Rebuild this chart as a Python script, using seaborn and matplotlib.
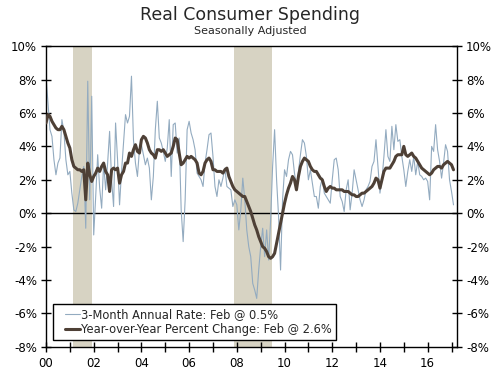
import numpy as np
import pandas as pd
import matplotlib
matplotlib.use('Agg')
import matplotlib.pyplot as plt
import seaborn as sns
from matplotlib.ticker import MultipleLocator, FuncFormatter
from matplotlib.legend_handler import HandlerLine2D

# monthly data, Jan 2000 - Feb 2017 (percent)
three_month = [
    8.2, 6.6, 5.0, 4.6, 3.2, 2.3, 3.0, 3.3, 5.6, 4.9, 3.2, 2.3,        # 2000
    2.5, 1.2, 0.2, 0.1, 0.6, 1.4, 2.2, 2.8, -0.9, 7.9, 0.8, 7.0,       # 2001
    -1.3, 1.0, 3.5, 1.5, 0.3, 3.0, 1.4, 3.0, 4.9, 2.0, 0.4, 5.4,       # 2002
    3.2, 0.5, 2.5, 4.2, 5.9, 5.4, 5.8, 8.2, 4.4, 3.0, 2.2, 3.8,        # 2003
    4.1, 3.5, 2.9, 3.3, 2.7, 0.8, 2.2, 5.0, 6.7, 4.5, 4.2, 3.7,        # 2004
    3.1, 3.9, 5.6, 2.2, 5.3, 5.4, 3.6, 4.5, 0.2, -1.7, 0.8, 5.0,       # 2005
    5.5, 4.8, 4.4, 3.8, 2.4, 2.2, 2.0, 1.6, 3.0, 3.8, 4.7, 4.8,        # 2006
    3.4, 1.6, 1.0, 2.0, 1.6, 2.1, 2.7, 1.6, 1.5, 1.4, 0.4, 0.8,        # 2007
    0.5, -1.0, 0.2, 2.1, 0.8, -1.0, -2.0, -2.6, -4.2, -4.6, -5.1, -3.4,  # 2008
    -2.0, -0.9, -2.6, -1.0, -2.8, -0.4, 2.8, 5.0, 2.0, -0.2, -3.4, 0.8,  # 2009
    2.6, 2.2, 3.2, 3.7, 3.5, 2.4, 1.6, 2.5, 3.5, 4.4, 4.2, 3.4,        # 2010
    2.0, 2.6, 1.8, 1.0, 1.0, 0.3, 1.6, 2.1, 1.2, 1.0, 0.8, 0.6,        # 2011
    2.0, 3.2, 3.3, 2.6, 1.0, 0.7, 0.1, 1.4, 2.0, 0.2, 1.2, 2.6,        # 2012
    2.0, 1.4, 0.8, 0.4, 0.8, 1.4, 1.6, 1.9, 2.8, 3.1, 4.4, 2.8,        # 2013
    1.2, 2.0, 3.4, 5.0, 3.4, 3.1, 5.2, 3.8, 5.3, 4.3, 4.4, 3.4,        # 2014
    2.6, 1.6, 2.5, 3.2, 2.5, 3.4, 2.3, 3.1, 2.3, 2.2, 2.0, 2.1,        # 2015
    1.9, 0.8, 4.0, 3.7, 5.3, 3.8, 3.1, 2.1, 3.0, 4.1, 3.7, 2.0,        # 2016
    1.3, 0.5,                                                          # 2017
]

year_over_year = [
    5.4, 5.9, 5.8, 5.5, 5.3, 5.1, 5.0, 5.0, 5.2, 5.0, 4.6, 4.2,        # 2000
    3.9, 3.2, 2.8, 2.7, 2.6, 2.6, 2.5, 2.6, 0.8, 3.0, 2.3, 1.9,        # 2001
    2.2, 2.4, 2.7, 2.5, 2.8, 3.0, 2.5, 2.3, 1.3, 2.6, 2.7, 2.6,        # 2002
    2.7, 1.8, 2.3, 2.5, 3.0, 3.0, 3.6, 3.4, 3.8, 4.1, 3.7, 3.6,        # 2003
    4.4, 4.6, 4.5, 4.2, 3.8, 3.6, 3.5, 3.3, 3.8, 3.8, 3.7, 3.8,        # 2004
    3.6, 3.4, 3.5, 3.6, 4.0, 4.5, 4.4, 3.6, 2.9, 3.0, 3.2, 3.4,        # 2005
    3.3, 3.4, 3.3, 3.2, 3.0, 2.4, 2.3, 2.5, 3.0, 3.2, 3.3, 3.1,        # 2006
    2.6, 2.6, 2.5, 2.5, 2.5, 2.4, 2.6, 2.7, 2.2, 1.9, 1.6, 1.4,        # 2007
    1.3, 1.2, 1.1, 1.0, 1.0, 0.7, 0.4, 0.1, -0.3, -0.7, -1.0, -1.4,    # 2008
    -1.7, -2.0, -2.1, -2.3, -2.6, -2.7, -2.6, -2.4, -1.8, -1.2, -0.6, 0.0,  # 2009
    0.6, 1.1, 1.5, 1.8, 2.2, 2.0, 1.4, 2.2, 2.8, 3.1, 3.3, 3.2,        # 2010
    3.1, 2.8, 2.6, 2.5, 2.5, 2.3, 2.1, 2.0, 1.6, 1.3, 1.5, 1.6,        # 2011
    1.5, 1.5, 1.4, 1.4, 1.4, 1.4, 1.3, 1.3, 1.3, 1.2, 1.1, 1.1,        # 2012
    1.0, 1.0, 1.1, 1.2, 1.2, 1.3, 1.4, 1.5, 1.6, 1.8, 2.1, 2.0,        # 2013
    1.5, 2.0, 2.5, 2.7, 2.7, 2.7, 2.9, 3.1, 3.4, 3.5, 3.5, 3.5,        # 2014
    4.0, 3.5, 3.4, 3.5, 3.6, 3.4, 3.3, 3.1, 2.9, 2.7, 2.6, 2.5,        # 2015
    2.4, 2.3, 2.4, 2.6, 2.7, 2.8, 2.8, 2.7, 2.9, 3.0, 3.1, 3.0,        # 2016
    2.9, 2.6,                                                          # 2017
]

recessions = [(2001.13, 2001.92), (2007.9, 2009.46)]

labels = ['3-Month Annual Rate: Feb @ 0.5%',
          'Year-over-Year Percent Change: Feb @ 2.6%']

dates = 2000 + np.arange(len(year_over_year)) / 12.0
df = pd.DataFrame({'date': dates, 'three_month': three_month,
                   'yoy': year_over_year})

sns.set_style('ticks')
plt.rcParams['font.family'] = ['DejaVu Sans']

fig, ax = plt.subplots(figsize=(5, 3.75), dpi=100)
fig.subplots_adjust(left=0.092, right=0.914, top=0.877, bottom=0.075)

for start, end in recessions:
    ax.axvspan(start, end, color='#d7d3c3', lw=0, zorder=0)

ax.axhline(0, color='black', lw=1, zorder=1)

sns.lineplot(data=df, x='date', y='three_month', ax=ax, color='#93abc0',
             lw=0.8, label=labels[0], zorder=2)
sns.lineplot(data=df, x='date', y='yoy', ax=ax, color='#4e4036',
             lw=2.2, label=labels[1], zorder=3)

ax.set_xlim(2000, 2017.23)
ax.set_ylim(-8, 10)
ax.set_xlabel('')
ax.set_ylabel('')

ax.yaxis.set_major_locator(MultipleLocator(2))
ax.yaxis.set_major_formatter(FuncFormatter(lambda v, p: f'{v:.0f}%'))
ax.xaxis.set_major_locator(MultipleLocator(1))
ax.xaxis.set_major_formatter(FuncFormatter(
    lambda v, p: f'{int(round(v)) % 100:02d}' if int(round(v)) % 2 == 0 else ''))

ax.tick_params(axis='both', direction='inout', length=7, width=1,
               labelsize=8.5, colors='black')
ax.tick_params(axis='y', right=True, labelright=True, pad=3)
ax.tick_params(axis='x', pad=4)

for side in ['top', 'bottom', 'left', 'right']:
    ax.spines[side].set_visible(True)
    ax.spines[side].set_color('black')
    ax.spines[side].set_linewidth(1)

handles, _ = ax.get_legend_handles_labels()
leg = ax.legend(handles, labels, loc='lower left',
                bbox_to_anchor=(0.017, 0.023),
                fontsize=8.3, frameon=True, fancybox=False, framealpha=1,
                edgecolor='black', borderpad=0.35, labelspacing=0.15,
                handlelength=2.0, handletextpad=0.1, borderaxespad=0,
                handler_map={h: HandlerLine2D(xpad=0.7) for h in handles})
leg.get_frame().set_linewidth(1)

fig.text(0.5, 1 - 15 / 375, 'Real Consumer Spending', ha='center',
         va='center', fontsize=12.5)
fig.text(0.5, 1 - 31 / 375, 'Seasonally Adjusted', ha='center',
         va='center', fontsize=8)

plt.savefig('out.png', dpi=100)
